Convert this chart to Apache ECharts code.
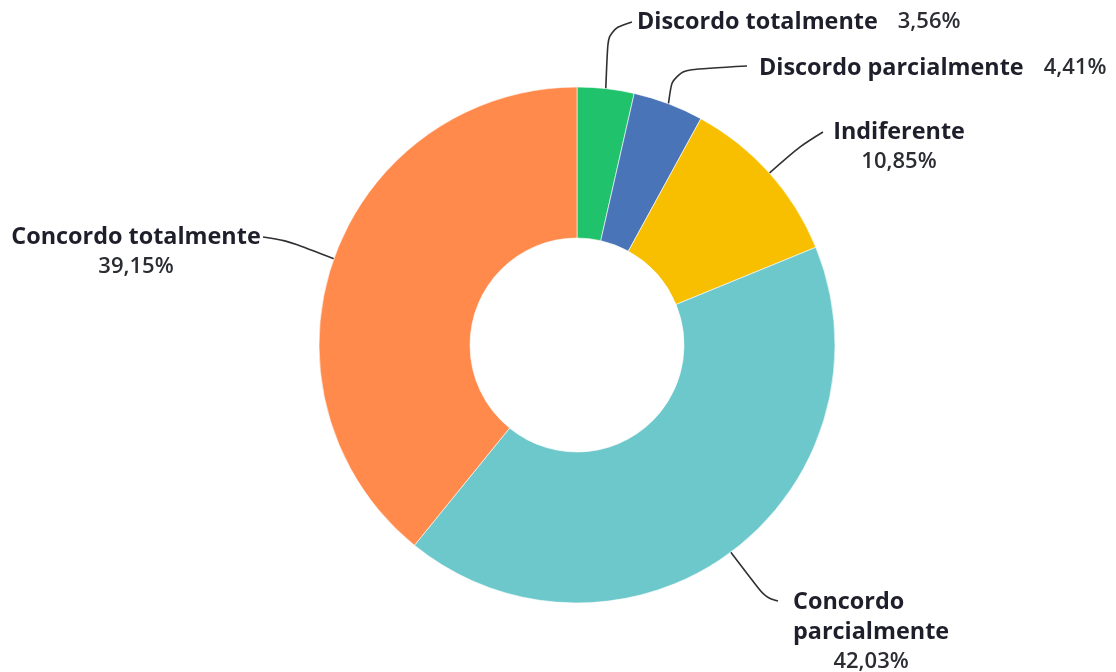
<!DOCTYPE html>
<html>
<head>
<meta charset="utf-8">
<script src="https://cdn.jsdelivr.net/npm/echarts@6/dist/echarts.min.js"></script>
<style>
  html, body { margin: 0; padding: 0; background: #ffffff; }
  #chart { width: 1116px; height: 672px; }
</style>
</head>
<body>
<div id="chart"></div>
<script>
// Response categories, in clockwise order starting at 12 o'clock
const categories = [
  'Discordo totalmente',
  'Discordo parcialmente',
  'Indiferente',
  'Concordo parcialmente',
  'Concordo totalmente'
];
// Share of responses (%)
const shares = [3.56, 4.41, 10.85, 42.03, 39.15];
const colors = ['#20c36b', '#4a74b8', '#f8bf00', '#6dc8cb', '#ff8a4c'];

// Label placement: anchor, alignment, line layout for each slice
const labelSpots = [
  { x: 637, y: 22, align: 'left', mode: 'inline', bend: [608, 30], end: [632, 22] },
  { x: 759, y: 68, align: 'left', mode: 'inline', bend: [673, 70], end: [747, 66] },
  { x: 899, y: 147, align: 'center', mode: 'stack', bend: [800, 146], end: [823, 132] },
  { x: 793, y: 632, align: 'left', mode: 'block', bend: [765, 597], end: [778, 601] },
  { x: 136, y: 252, align: 'center', mode: 'stack', bend: [285, 240], end: [263, 237] }
];

const fmt = v => v.toFixed(2).replace('.', ',') + '%';

const chart = echarts.init(document.getElementById('chart'), null, { renderer: 'canvas' });

const data = categories.map((name, i) => ({
  name,
  value: shares[i],
  itemStyle: { color: colors[i] }
}));

chart.setOption({
  animation: false,
  backgroundColor: '#ffffff',
  series: [{
    type: 'pie',
    center: [577, 345],
    radius: [107, 258],
    startAngle: 90,
    clockwise: true,
    avoidLabelOverlap: false,
    data,
    itemStyle: { borderColor: '#ffffff', borderWidth: 0.6 },
    label: {
      show: true,
      position: 'outside',
      formatter: p => {
        const spot = labelSpots[p.dataIndex];
        const v = fmt(p.value);
        if (spot.mode === 'inline') return '{n|' + p.name + '}{gap|}{v|' + v + '}';
        if (spot.mode === 'block') {
          const parts = p.name.split(' ');
          return '{n|' + parts[0] + '}\n{n|' + parts[1] + '}\n{vc|' + v + '}';
        }
        return '{n|' + p.name + '}\n{v|' + v + '}';
      },
      rich: {
        n: { fontFamily: 'Open Sans', fontWeight: 'bold', fontSize: 23.4, color: '#1e1f2a', lineHeight: 30 },
        v: { fontFamily: 'Open Sans', fontWeight: 600, fontSize: 22, color: '#2b2d33', lineHeight: 30 },
        vc: { fontFamily: 'Open Sans', fontWeight: 600, fontSize: 22, color: '#2b2d33', lineHeight: 30, align: 'center' },
        gap: { width: 20 }
      }
    },
    labelLine: {
      show: true,
      smooth: 0.35,
      lineStyle: { color: '#2f3033', width: 1.6 }
    },
    labelLayout: params => {
      const spot = labelSpots[params.dataIndex];
      const start = params.labelLinePoints ? params.labelLinePoints[0] : spot.bend;
      return {
        x: spot.x,
        y: spot.y,
        align: spot.align,
        verticalAlign: 'middle',
        labelLinePoints: [start, spot.bend, spot.end]
      };
    }
  }]
});
</script>
</body>
</html>
